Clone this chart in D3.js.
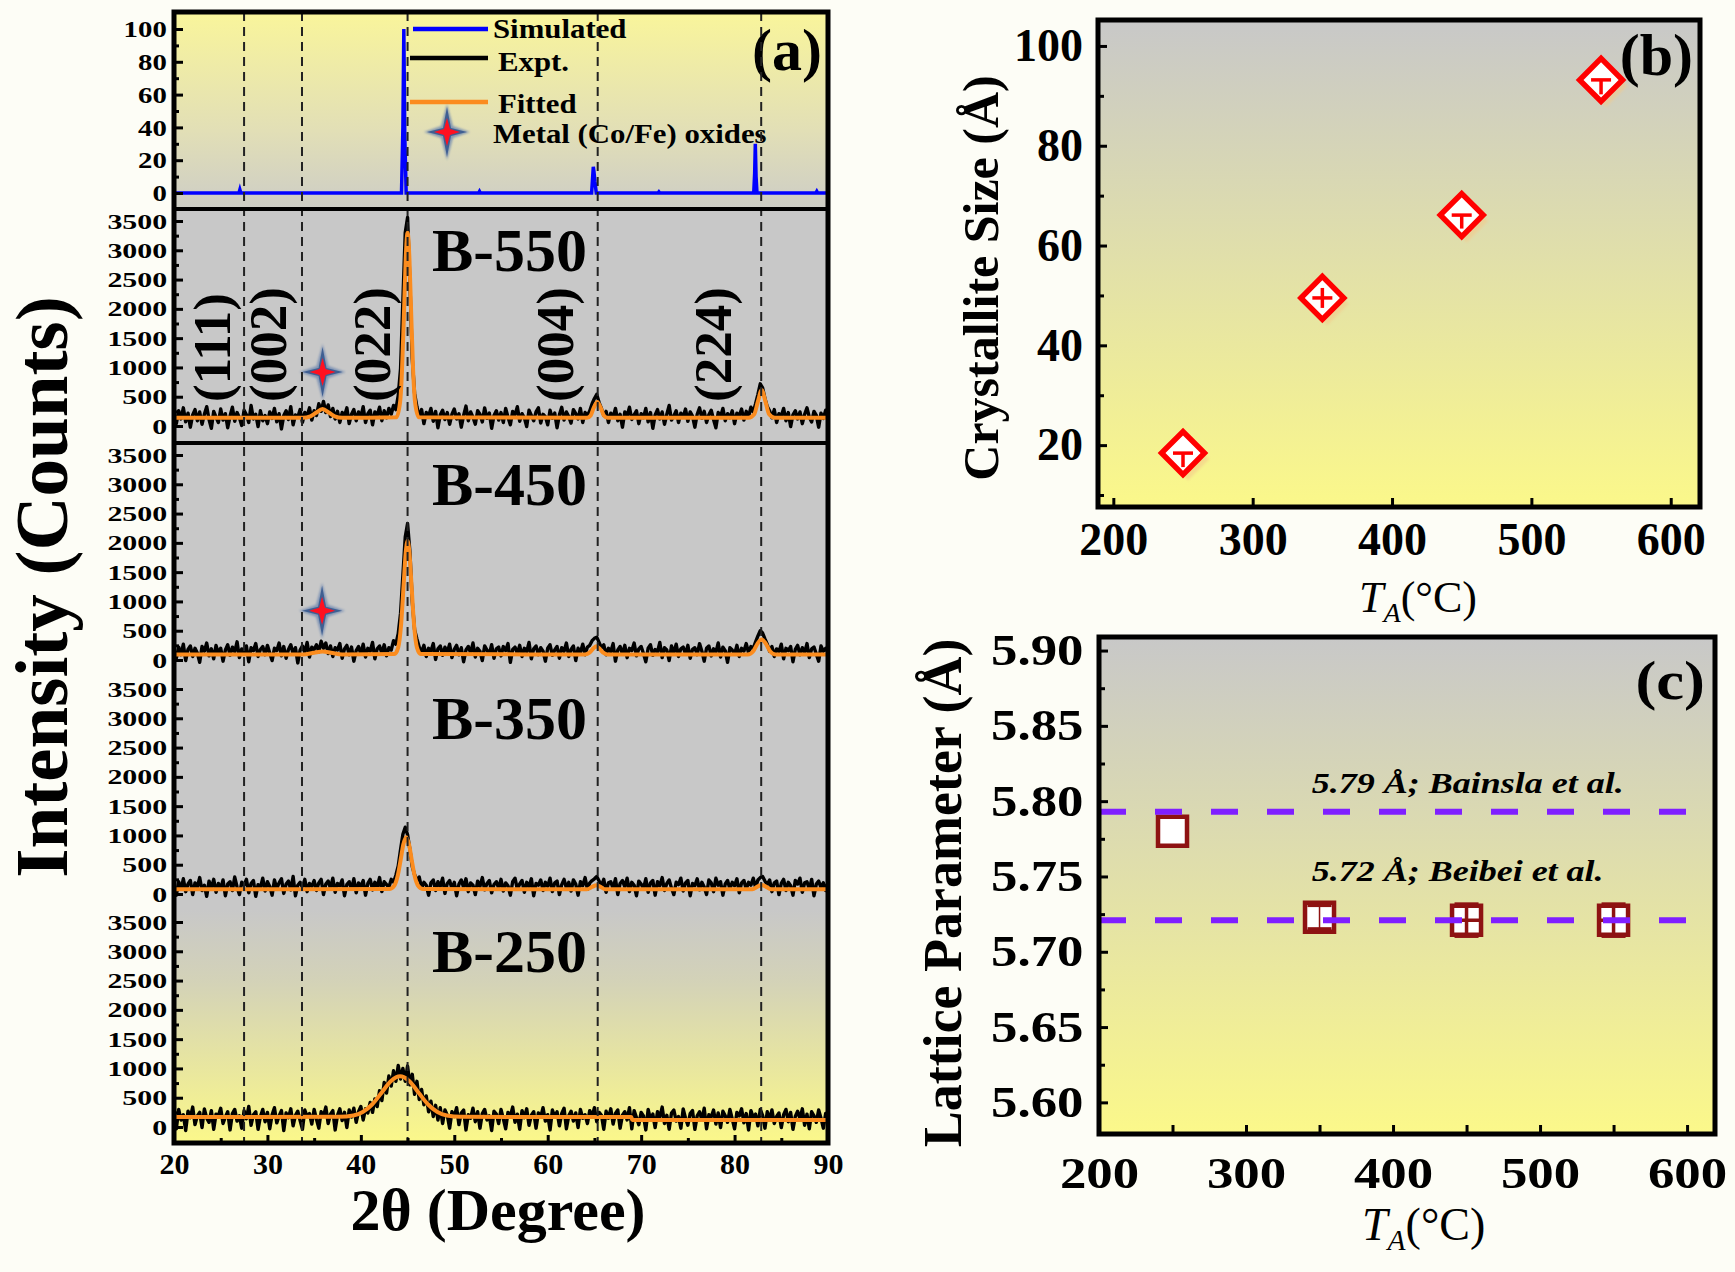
<!DOCTYPE html>
<html>
<head>
<meta charset="utf-8">
<script src="https://cdn.jsdelivr.net/npm/d3@7"></script>
<style>
    body { margin: 0; background: #fdfdf6; }
    svg { display: block; }
</style>
</head>
<body>
<svg id="chart" width="1735" height="1272"></svg>
<script>
// ---- dados ----

// (a) padrões de DRX
const samples = ["B-550", "B-450", "B-350", "B-250"];
const xTicksA = [20, 30, 40, 50, 60, 70, 80, 90];
const xMinorA = [25, 35, 45, 55, 65, 75, 85];
const countTicks = [0, 500, 1000, 1500, 2000, 2500, 3000, 3500];
const countMinor = [250, 750, 1250, 1750, 2250, 2750, 3250];
const simTicks = [0, 20, 40, 60, 80, 100];
const simMinor = [10, 30, 50, 70, 90];

// reflexões (linhas tracejadas) e rótulos hkl
const reflections = [27.5, 33.7, 45.0, 65.35, 82.85];
const hklLabels = ["(111)", "(002)", "(022)", "(004)", "(224)"];
const hklTheta = [26.0, 32.0, 43.1, 62.7, 79.6];

// padrão simulado (intensidade normalizada)
const simTheta = [20, 26.95, 27.05, 27.15, 44.35, 44.5, 44.6, 44.7, 44.85, 52.6, 52.7, 52.8,
    64.7, 64.8, 64.88, 64.95, 65.05, 65.2, 71.8, 71.9, 72.0, 82.05, 82.15, 82.22, 82.3, 82.4,
    88.7, 88.8, 88.9, 90];
const simIntensity = [0, 0, 2, 0, 0, 40, 100, 35, 0, 0, 1, 0,
    0, 9, 16, 13, 7, 0, 0, 0.7, 0, 0, 12, 30, 10, 0,
    0, 1, 0, 0];

// experimental: contagens de 20° a 90°, passo de 0.25°
const exptStart = 20, exptStep = 0.25;
const expt550 = [
    180, 40, 260, 120, 310, 70, 220, -20, 190, 280, 90, 240, 30, 200, 330, 110, -40, 250, 150, 60,
    290, 100, 210, -30, 170, 320, 80, 230, 140, 10, 270, 190, 60, 350, 120, 200, -10, 260, 90, 180,
    40, 240, 130, 300, 70, 210, -50, 180, 260, 110, 330, 20, 190, 150, 280, 60, 230, 170, 310, 100,
    260, 180, 380, 250, 420, 230, 360, 160, 300, 120, 250, 60, 230, 170, 310, 40, 200, 280, 90, 240,
    150, 330, 60, 210, 270, 20, 240, 180, 320, 90, 260, 140, 300, 200, 350, 280, 520, 980, 2150, 3300,
    3560, 2450, 1150, 560, 330, 150, 280, 40, 230, 170, 300, 80, 250, -30, 190, 270, 110, 230, 30, 200,
    290, 120, 210, -20, 180, 340, 90, 240, 150, 30, 260, 200, 70, 310, 130, 220, -40, 180, 260, 100,
    230, 60, 300, 150, 20, 250, 190, 330, 80, 210, 140, -10, 270, 180, 90, 240, 310, 50, 200, 160,
    20, 270, 130, 220, -30, 190, 320, 100, 240, 160, 50, 280, 210, 120, 300, 60, 230, 180, 260, 380,
    470, 540, 400, 300, 180, 250, 60, 220, 150, 300, 90, 200, -20, 240, 170, 320, 110, 190, 260, 40,
    210, 140, 300, 70, 230, -40, 190, 280, 120, 240, 30, 200, 350, 100, 170, 260, 60, 220, 150, 290,
    80, 240, 170, -20, 200, 310, 130, 250, 60, 190, 270, 110, -30, 230, 160, 300, 90, 210, 140, 260,
    40, 220, 180, 290, 100, 250, 160, 320, 240, 380, 540, 720, 650, 470, 330, 260, 140, 280, 60, 210,
    170, 300, 90, 230, -10, 190, 260, 120, 240, 40, 200, 310, 150, 70, 250, 180, -20, 220, 130, 270,
    160];
const expt450 = [
    160, 30, 220, 90, 270, -10, 180, 240, 60, 200, 120, -40, 230, 150, 290, 70, 190, 20, 250, 110,
    200, -20, 170, 260, 80, 220, 140, 310, 40, 190, 100, 240, -30, 210, 160, 280, 60, 180, 230, 90,
    250, 120, -10, 200, 160, 290, 70, 230, 30, 180, 260, 100, 210, -50, 170, 240, 130, 300, 50, 220,
    180, 260, 140, 320, 200, 290, 110, 240, 60, 210, 170, 280, 30, 190, 250, 90, 220, -20, 160, 230,
    100, 270, 50, 200, 150, 300, 20, 190, 240, 110, 260, 70, 210, 170, 330, 270, 450, 800, 1450, 2100,
    2330, 1850, 1000, 520, 360, 220, 130, 250, 60, 200, 150, 280, 10, 190, 240, 80, 220, 130, 270, 40,
    180, 250, 90, 210, -30, 170, 230, 120, 290, 50, 200, 150, -10, 240, 170, 100, 260, 30, 190, 220,
    70, 230, 160, 280, -40, 180, 220, 110, 250, 60, 200, 140, 300, 20, 190, 240, 90, 210, 150, -20,
    200, 260, 80, 170, 230, 30, 210, 150, 290, 60, 180, 240, -10, 200, 130, 270, 90, 220, 250, 330,
    370, 390, 300, 210, 260, 90, 200, 140, 280, -20, 170, 230, 100, 250, 40, 200, 160, 290, 70, 190,
    230, 110, -30, 200, 260, 80, 180, 140, 300, 40, 210, 170, -10, 240, 120, 270, 60, 190, 220, 100,
    250, 30, 180, 210, 90, 280, 150, -20, 200, 240, 70, 190, 130, 290, 50, 220, 160, -40, 210, 170,
    100, 250, 60, 200, 150, 280, 120, 230, 200, 310, 410, 500, 460, 360, 270, 150, 230, 60, 190, 140,
    270, 20, 200, 160, 230, -30, 180, 250, 90, 210, 130, 280, 40, 190, 220, 100, -20, 240, 150, 200,
    120];
const expt350 = [
    140, -20, 210, 80, 260, 40, 170, 230, -10, 190, 120, 280, 60, 150, -40, 220, 100, 250, 30, 180,
    90, 240, -30, 170, 210, 60, 290, 120, -10, 200, 150, 250, 20, 180, 230, -40, 160, 110, 270, 50,
    210, 130, -20, 240, 90, 190, 260, 10, 170, 220, 70, 300, -30, 150, 200, 110, 250, 40, 180, 130,
    230, 60, 190, 250, -10, 170, 220, 100, 270, 30, 180, 140, 240, -30, 160, 210, 80, 260, 20, 190,
    130, 230, -20, 180, 250, 70, 200, 120, 280, 40, 210, 160, 110, 250, 200, 320, 480, 760, 1020, 1140,
    1010, 760, 470, 330, 230, 290, 100, 200, 150, -20, 190, 240, 60, 210, 130, 270, 10, 180, 230, 90,
    200, -30, 170, 240, 110, 260, 40, 190, 150, -10, 220, 130, 280, 70, 180, 230, 20, 160, 210, 100,
    250, 50, 190, 140, -20, 210, 270, 80, 170, 230, 30, 200, 120, 260, -30, 180, 150, 240, 60, 200,
    130, 270, 40, 190, 220, -10, 160, 250, 100, 200, 50, 240, 170, -20, 210, 140, 280, 80, 190, 230,
    260, 300, 220, 140, 250, 30, 190, 210, 90, 260, -10, 180, 230, 120, 270, 40, 200, 150, -30, 220,
    170, 90, 260, 30, 190, 230, -20, 210, 140, 280, 60, 180, 240, 100, -10, 200, 160, 270, 50, 190,
    230, -30, 180, 140, 260, 70, 200, 120, -10, 240, 190, 40, 270, 150, 210, -20, 170, 230, 90, 200,
    140, 260, 20, 190, 230, 80, 200, 150, 270, 110, 240, 280, 300, 220, 160, 240, 40, 190, 220, -10,
    180, 250, 60, 200, 140, -20, 230, 170, 270, 30, 190, 210, 80, 250, -30, 170, 220, 110, 190, 60,
    200];
const expt250 = [
    230, -30, 300, 120, 210, -60, 270, 160, 340, 40, 190, 250, -10, 310, 150, 80, 280, -40, 220, 190,
    320, 60, 170, 260, -50, 230, 300, 100, 190, -20, 280, 140, 350, 30, 210, 260, -40, 180, 300, 90,
    250, -30, 210, 330, 70, 190, 280, -60, 240, 160, 310, 20, 200, 270, 110, -40, 290, 180, 230, 50,
    300, 130, -20, 260, 190, 340, 60, 220, 280, -50, 200, 310, 110, 250, -10, 290, 170, 320, 80, 260,
    350, 120, 310, 240, 420, 250, 480, 350, 620, 450, 760, 580, 870, 700, 960, 780, 1050, 820, 1000, 780,
    1040, 720, 900, 560, 780, 470, 640, 380, 530, 260, 440, 180, 370, 120, 330, 60, 290, 200, -20, 260,
    180, 330, 40, 240, 290, -50, 210, 150, 320, 90, 260, -20, 230, 300, 120, 190, -60, 270, 220, 60,
    300, 140, -30, 250, 190, 340, 80, 220, -40, 280, 160, 310, 30, 200, 260, -20, 240, 170, 330, 100,
    210, -50, 290, 180, 260, 20, 230, 320, -30, 190, 270, 100, 240, -10, 300, 150, 210, 60, 280, 180,
    330, 90, 250, 200, -40, 270, 150, 310, 50, 230, 290, -20, 200, 260, 120, 330, -30, 280, 160, 40,
    250, 190, -50, 300, 130, 220, -10, 260, 170, 340, 60, 200, -40, 240, 290, 100, 180, -20, 310, 150,
    30, 230, 280, -40, 190, 260, 120, 320, -30, 210, 170, 290, 50, 240, -10, 270, 190, 80, 300, 140,
    -30, 250, 190, 310, 70, 230, -50, 280, 160, 220, 20, 300, 200, -20, 260, 130, 290, 60, 180, 240,
    -10, 210, 300, 90, 250, -40, 180, 270, 140, 310, 30, 220, -30, 260, 190, 80, 290, 150, -20, 230,
    170];

// curvas ajustadas (pontos-chave)
const fit550Theta = [20, 33.8, 34.6, 35.2, 35.9, 36.6, 37.2, 38.0,
    43.8, 44.2, 44.4, 44.6, 44.8, 45.0, 45.2, 45.4, 45.6, 45.8, 46.2,
    64.2, 64.6, 64.9, 65.3, 65.7, 66.0, 66.4, 81.5, 82.1, 82.5, 82.9, 83.3, 83.7, 84.3, 90];
const fit550 = [140, 140, 165, 225, 290, 225, 165, 140,
    150, 410, 930, 1850, 2850, 3300, 2850, 1850, 930, 410, 150,
    140, 180, 300, 410, 300, 180, 140, 140, 200, 420, 615, 420, 200, 140, 140];
const fit450Theta = [20, 33.8, 35.0, 35.9, 36.8, 38.0,
    43.6, 44.0, 44.3, 44.6, 44.8, 45.0, 45.2, 45.4, 45.7, 46.0, 46.4,
    64.0, 64.5, 64.9, 65.2, 65.5, 65.9, 66.4, 81.4, 82.0, 82.5, 82.9, 83.3, 83.8, 84.4, 90];
const fit450 = [95, 95, 125, 145, 125, 95,
    103, 216, 592, 1337, 1827, 2030, 1827, 1337, 592, 216, 103,
    95, 130, 200, 235, 200, 130, 95, 95, 150, 290, 350, 290, 150, 95, 95];
const fit350Theta = [20, 43.05, 43.55, 43.95, 44.25, 44.55, 44.85, 45.15, 45.45, 45.75, 46.15, 46.65,
    64.2, 64.8, 65.2, 65.6, 66.2, 81.9, 82.5, 82.9, 83.3, 83.9, 90];
const fit350 = [80, 84, 136, 316, 573, 848, 970, 848, 573, 316, 136, 84,
    80, 125, 150, 125, 80, 80, 130, 155, 130, 80, 80];
const fit250Theta = [20, 37.7, 39.2, 40.2, 41.2, 42.2, 43.2, 44.2, 45.2, 46.2, 47.2, 48.2, 49.2, 50.7,
    68.95, 69.05, 90];
const fit250 = [170, 173, 196, 255, 384, 581, 780, 865, 780, 581, 384, 255, 196, 173,
    170, 120, 120];

// óxidos metálicos (estrelas)
const oxidePanel = [0, 1];
const oxideTheta = [35.9, 35.85];
const oxideLevel = [920, 840];

// (b) tamanho de cristalito
const annealTemp = [250, 350, 450, 550];
const crystSize = [18.4, 49.5, 66.1, 93.2];
const sizeErrLow = [2.8, 2.0, 2.7, 2.9];
const sizeErrHigh = [0, 2.0, 0, 0];
const tempTicksB = [200, 300, 400, 500, 600];
const sizeTicks = [20, 40, 60, 80, 100];
const sizeMinor = [10, 30, 50, 70, 90];

// (c) parâmetro de rede
const latticeParam = [5.780, 5.723, 5.721, 5.721];
const latticeErrY = [0, 0.008, 0.0105, 0.0105];
const latticeErrX = [0, 0, 11, 11];
const refLattice = [5.793, 5.721];
const refLabels = ["5.79 Å; Bainsla et al.", "5.72 Å; Beibei et al."];
const tempTicksC = [200, 300, 400, 500, 600];
const tempMinorC = [250, 350, 450, 550];
const latticeTicks = [5.60, 5.65, 5.70, 5.75, 5.80, 5.85, 5.90];
const latticeMinor = [5.625, 5.675, 5.725, 5.775, 5.825, 5.875];

// ---- desenho ----
const FONT = "'Liberation Serif', 'Times New Roman', serif";
const svg = d3.select("#chart").attr("font-family", FONT);
const defs = svg.append("defs");

function linGrad(id, stops) {
    let g = defs.append("linearGradient").attr("id", id)
        .attr("x1", 0).attr("y1", 0).attr("x2", 0).attr("y2", 1);
    stops.forEach(([o, c]) => g.append("stop").attr("offset", o).attr("stop-color", c));
}
linGrad("simBg", [[0, "#f9f59b"], [0.6, "#e2dfb6"], [1, "#cdcdc6"]]);
linGrad("lowBg", [[0, "#c8c8c8"], [0.3, "#d3d2b8"], [1, "#fbf88a"]]);
linGrad("sideBg", [[0, "#c8c8c8"], [1, "#fbf88a"]]);
defs.append("filter").attr("id", "soft")
    .append("feGaussianBlur").attr("stdDeviation", 1.2);

function styleAxis(g, size, sx) {
    g.select(".domain").remove();
    g.attr("font-family", FONT).attr("font-size", size).attr("font-weight", "bold");
    g.selectAll(".tick line").attr("stroke", "#000").attr("stroke-width", 3);
    g.selectAll(".tick text").attr("fill", "#000");
    if (sx) g.selectAll(".tick text").attr("transform", `scale(${sx},1)`);
    return g;
}

function starPath(cx, cy, h, w, k) {
    let p = d3.path();
    p.moveTo(cx, cy - h);
    p.lineTo(cx + k, cy - k);
    p.lineTo(cx + w, cy);
    p.lineTo(cx + k, cy + k);
    p.lineTo(cx, cy + h);
    p.lineTo(cx - k, cy + k);
    p.lineTo(cx - w, cy);
    p.lineTo(cx - k, cy - k);
    p.closePath();
    return p.toString();
}

function drawStar(g, cx, cy) {
    g.append("path").attr("d", starPath(cx, cy, 28, 23, 6))
        .attr("fill", "#6f88b0").attr("opacity", 0.8).attr("filter", "url(#soft)");
    g.append("path").attr("d", starPath(cx, cy, 25, 20, 4)).attr("fill", "#3f5f92");
    g.append("path").attr("d", starPath(cx, cy, 14, 13, 3)).attr("fill", "#ff1020");
}

// ===== painel (a) =====
const A = { left: 174, right: 828, top: 12, bottom: 1143 };
const panelTop = [209, 443, 677, 910];
const x = d3.scaleLinear().domain([20, 90]).range([A.left, A.right]);
const ySim = d3.scaleLinear().domain([0, 100]).range([193, 29]);
const yPanel = panelTop.map(t => d3.scaleLinear().domain([0, 3500]).range([t + 217, t + 12]));

const gA = svg.append("g");
gA.append("rect").attr("x", A.left).attr("y", A.top).attr("width", A.right - A.left)
    .attr("height", panelTop[0] - A.top).attr("fill", "url(#simBg)");
gA.append("rect").attr("x", A.left).attr("y", panelTop[0]).attr("width", A.right - A.left)
    .attr("height", panelTop[3] - panelTop[0]).attr("fill", "#c8c8c8");
gA.append("rect").attr("x", A.left).attr("y", panelTop[3]).attr("width", A.right - A.left)
    .attr("height", A.bottom - panelTop[3]).attr("fill", "url(#lowBg)");

defs.append("clipPath").attr("id", "clipA").append("rect")
    .attr("x", A.left).attr("y", A.top).attr("width", A.right - A.left).attr("height", A.bottom - A.top);
const plotA = gA.append("g").attr("clip-path", "url(#clipA)");

// simulado
const simLine = d3.line().x(d => x(d[0])).y(d => ySim(d[1]));
plotA.append("path").datum(d3.zip(simTheta, simIntensity))
    .attr("d", simLine).attr("fill", "none").attr("stroke", "#0000ff").attr("stroke-width", 3.5);

const exptSeries = [expt550, expt450, expt350, expt250];
const fitSeries = [[fit550Theta, fit550], [fit450Theta, fit450], [fit350Theta, fit350], [fit250Theta, fit250]];

samples.forEach((s, i) => {
    let y = yPanel[i];
    let exptLine = d3.line().x((d, j) => x(exptStart + j * exptStep)).y(d => y(d));
    plotA.append("path").datum(exptSeries[i]).attr("d", exptLine)
        .attr("fill", "none").attr("stroke", "#000").attr("stroke-width", 3.4).attr("stroke-linejoin", "round");
    let fitLine = d3.line().curve(d3.curveMonotoneX).x(d => x(d[0])).y(d => y(d[1]));
    plotA.append("path").datum(d3.zip(fitSeries[i][0], fitSeries[i][1])).attr("d", fitLine)
        .attr("fill", "none").attr("stroke", "#fb8c1e").attr("stroke-width", 4);

    gA.append("text").attr("x", x(55.9)).attr("y", y(2650)).attr("text-anchor", "middle")
        .attr("font-size", 62).attr("font-weight", "bold").text(s);
});

oxidePanel.forEach((p, i) => drawStar(gA, x(oxideTheta[i]), yPanel[p](oxideLevel[i])));

// rótulos hkl
hklLabels.forEach((h, i) => {
    gA.append("text")
        .attr("transform", `translate(${x(hklTheta[i])},402) rotate(-90)`)
        .attr("font-size", 53).attr("font-weight", "bold").text(h);
});

// legenda
const legend = gA.append("g").attr("font-size", 28).attr("font-weight", "bold");
[["#0000ff", 29, 413], ["#000", 58, 410], ["#fb8c1e", 102, 410]].forEach(([c, ly, lx]) => {
    legend.append("line").attr("x1", lx).attr("x2", 488).attr("y1", ly).attr("y2", ly)
        .attr("stroke", c).attr("stroke-width", 4.5);
});
[["Simulated", 493, 38], ["Expt.", 498, 71], ["Fitted", 498, 113], ["Metal (Co/Fe) oxides", 493, 143]]
    .forEach(([s, lx, ly]) => {
        legend.append("text").attr("transform", `translate(${lx},${ly}) scale(1.1,1)`).text(s);
    });
drawStar(legend, 447, 132);

gA.append("text").attr("x", 822).attr("y", 70).attr("text-anchor", "end")
    .attr("font-size", 60).attr("font-weight", "bold").text("(a)");

// linhas tracejadas das reflexões
gA.selectAll(".refl").data(reflections).enter().append("line")
    .attr("x1", d => x(d)).attr("x2", d => x(d)).attr("y1", A.top).attr("y2", A.bottom)
    .attr("stroke", "#222").attr("stroke-width", 2).attr("stroke-dasharray", "9,6");

// eixos
const intFmt = d3.format("d");
let ax = gA.append("g").attr("transform", `translate(${A.left},0)`)
    .call(d3.axisLeft(ySim).tickValues(simTicks).tickFormat(intFmt)
        .tickSizeInner(-9).tickSizeOuter(0).tickPadding(6));
styleAxis(ax, 24, 1.2);
ax = gA.append("g").attr("transform", `translate(${A.left},0)`)
    .call(d3.axisLeft(ySim).tickValues(simMinor).tickSize(-5).tickFormat(""));
styleAxis(ax, 24);
yPanel.forEach(y => {
    let g = gA.append("g").attr("transform", `translate(${A.left},0)`)
        .call(d3.axisLeft(y).tickValues(countTicks).tickFormat(intFmt)
            .tickSizeInner(-9).tickSizeOuter(0).tickPadding(5));
    styleAxis(g, 22, 1.36);
    g = gA.append("g").attr("transform", `translate(${A.left},0)`)
        .call(d3.axisLeft(y).tickValues(countMinor).tickSize(-5).tickFormat(""));
    styleAxis(g, 22);
});
ax = gA.append("g").attr("transform", `translate(0,${A.bottom})`)
    .call(d3.axisBottom(x).tickValues(xTicksA).tickFormat(intFmt)
        .tickSizeInner(-8).tickSizeOuter(0).tickPadding(10));
styleAxis(ax, 30);
ax = gA.append("g").attr("transform", `translate(0,${A.bottom})`)
    .call(d3.axisBottom(x).tickValues(xMinorA).tickSize(-5).tickFormat(""));
styleAxis(ax, 30);

// moldura e separadores
gA.append("rect").attr("x", A.left).attr("y", A.top).attr("width", A.right - A.left)
    .attr("height", A.bottom - A.top).attr("fill", "none").attr("stroke", "#000").attr("stroke-width", 5);
[panelTop[0], panelTop[1]].forEach(t => {
    gA.append("line").attr("x1", A.left).attr("x2", A.right).attr("y1", t).attr("y2", t)
        .attr("stroke", "#000").attr("stroke-width", 4);
});

gA.append("text").attr("transform", "translate(67,587) rotate(-90)").attr("text-anchor", "middle")
    .attr("font-size", 75).attr("font-weight", "bold").text("Intensity (Counts)");
gA.append("text").attr("x", 498).attr("y", 1230).attr("text-anchor", "middle")
    .attr("font-size", 60).attr("font-weight", "bold").text("2θ (Degree)");

// ===== painel (b) =====
const B = { left: 1098, right: 1700, top: 20, bottom: 507 };
const xB = d3.scaleLinear().domain([189, 621]).range([B.left, B.right]);
const yB = d3.scaleLinear().domain([7.6, 105.2]).range([B.bottom, B.top]);
const gB = svg.append("g");
gB.append("rect").attr("x", B.left).attr("y", B.top).attr("width", B.right - B.left)
    .attr("height", B.bottom - B.top).attr("fill", "url(#sideBg)");

const diamond = d3.symbol().type(d3.symbolSquare).size(920);
annealTemp.forEach((t, i) => {
    let cx = xB(t), cy = yB(crystSize[i]);
    gB.append("path").attr("d", diamond())
        .attr("transform", `translate(${cx + 5},${cy + 6}) rotate(45)`)
        .attr("fill", "#f2c98a").attr("opacity", 0.55).attr("filter", "url(#soft)");
    gB.append("path").attr("d", diamond())
        .attr("transform", `translate(${cx},${cy}) rotate(45)`)
        .attr("fill", "#fff").attr("stroke", "#ff0000").attr("stroke-width", 5.5);
    gB.append("line").attr("x1", cx).attr("x2", cx)
        .attr("y1", yB(crystSize[i] + sizeErrHigh[i])).attr("y2", yB(crystSize[i] - sizeErrLow[i]))
        .attr("stroke", "#ff0000").attr("stroke-width", 3.5);
    gB.append("line").attr("x1", cx - 10).attr("x2", cx + 10).attr("y1", cy).attr("y2", cy)
        .attr("stroke", "#ff0000").attr("stroke-width", 3.5);
});

ax = gB.append("g").attr("transform", `translate(${B.left},0)`)
    .call(d3.axisLeft(yB).tickValues(sizeTicks).tickFormat(intFmt)
        .tickSizeInner(-9).tickSizeOuter(0).tickPadding(15));
styleAxis(ax, 46);
ax = gB.append("g").attr("transform", `translate(${B.left},0)`)
    .call(d3.axisLeft(yB).tickValues(sizeMinor).tickSize(-6).tickFormat(""));
styleAxis(ax, 46);
ax = gB.append("g").attr("transform", `translate(0,${B.bottom})`)
    .call(d3.axisBottom(xB).tickValues(tempTicksB).tickFormat(intFmt)
        .tickSizeInner(-9).tickSizeOuter(0).tickPadding(15));
styleAxis(ax, 46);
gB.append("rect").attr("x", B.left).attr("y", B.top).attr("width", B.right - B.left)
    .attr("height", B.bottom - B.top).attr("fill", "none").attr("stroke", "#000").attr("stroke-width", 5);

gB.append("text").attr("x", 1693).attr("y", 75).attr("text-anchor", "end")
    .attr("font-size", 60).attr("font-weight", "bold").text("(b)");
gB.append("text").attr("transform", "translate(998,278) rotate(-90)").attr("text-anchor", "middle")
    .attr("font-size", 50).attr("font-weight", "bold").text("Crystallite Size (Å)");

function tempLabel(g, lx, ly, size) {
    let t = g.append("text").attr("x", lx).attr("y", ly).attr("font-size", size);
    t.append("tspan").attr("font-style", "italic").text("T");
    t.append("tspan").attr("font-style", "italic").attr("font-size", size * 0.64).attr("dy", 10).text("A");
    t.append("tspan").attr("dy", -10).text("(°C)");
}
tempLabel(gB, 1359, 612, 44);

// ===== painel (c) =====
const C = { left: 1099, right: 1715, top: 637, bottom: 1134 };
const xC = d3.scaleLinear().domain([200, 619]).range([C.left, C.right]);
const yC = d3.scaleLinear().domain([5.579, 5.909]).range([C.bottom, C.top]);
const gC = svg.append("g");
gC.append("rect").attr("x", C.left).attr("y", C.top).attr("width", C.right - C.left)
    .attr("height", C.bottom - C.top).attr("fill", "url(#sideBg)");

const square = d3.symbol().type(d3.symbolSquare).size(841);
const darkRed = "#8e1212";
annealTemp.forEach((t, i) => {
    let cx = xC(t), cy = yC(latticeParam[i]);
    gC.append("path").attr("d", square()).attr("transform", `translate(${cx},${cy})`)
        .attr("fill", "#fff").attr("stroke", darkRed).attr("stroke-width", 4.5);
    if (latticeErrY[i] > 0) {
        let y1 = yC(latticeParam[i] + latticeErrY[i]), y2 = yC(latticeParam[i] - latticeErrY[i]);
        gC.append("line").attr("x1", cx).attr("x2", cx).attr("y1", y1).attr("y2", y2)
            .attr("stroke", darkRed).attr("stroke-width", latticeErrX[i] > 0 ? 3.5 : 1.5);
        [y1, y2].forEach(yy => gC.append("line").attr("x1", cx - 12).attr("x2", cx + 12)
            .attr("y1", yy).attr("y2", yy).attr("stroke", darkRed).attr("stroke-width", 4));
    }
    if (latticeErrX[i] > 0) {
        gC.append("line").attr("x1", xC(t - latticeErrX[i])).attr("x2", xC(t + latticeErrX[i]))
            .attr("y1", cy).attr("y2", cy).attr("stroke", darkRed).attr("stroke-width", 3.5);
    }
});

refLattice.forEach(v => {
    gC.append("line").attr("x1", xC(200)).attr("x2", xC(605)).attr("y1", yC(v)).attr("y2", yC(v))
        .attr("stroke", "#7f1fff").attr("stroke-width", 6).attr("stroke-dasharray", "27,29");
});
[[5.8055, refLabels[0]], [5.747, refLabels[1]]].forEach(([v, s]) => {
    gC.append("text").attr("transform", `translate(${xC(344.7)},${yC(v)}) scale(1.2,1)`)
        .attr("font-size", 30).attr("font-weight", "bold").attr("font-style", "italic").text(s);
});

ax = gC.append("g").attr("transform", `translate(${C.left},0)`)
    .call(d3.axisLeft(yC).tickValues(latticeTicks).tickFormat(d3.format(".2f"))
        .tickSizeInner(-9).tickSizeOuter(0).tickPadding(13));
styleAxis(ax, 44, 1.2);
ax = gC.append("g").attr("transform", `translate(${C.left},0)`)
    .call(d3.axisLeft(yC).tickValues(latticeMinor).tickSize(-6).tickFormat(""));
styleAxis(ax, 44);
ax = gC.append("g").attr("transform", `translate(0,${C.bottom})`)
    .call(d3.axisBottom(xC).tickValues(tempTicksC).tickFormat(intFmt)
        .tickSizeInner(-9).tickSizeOuter(0).tickPadding(23));
styleAxis(ax, 44, 1.2);
ax = gC.append("g").attr("transform", `translate(0,${C.bottom})`)
    .call(d3.axisBottom(xC).tickValues(tempMinorC).tickSize(-9).tickFormat(""));
styleAxis(ax, 44);
gC.append("rect").attr("x", C.left).attr("y", C.top).attr("width", C.right - C.left)
    .attr("height", C.bottom - C.top).attr("fill", "none").attr("stroke", "#000").attr("stroke-width", 5);

gC.append("text").attr("transform", "translate(1705,699) scale(1.12,1)").attr("text-anchor", "end")
    .attr("font-size", 56).attr("font-weight", "bold").text("(c)");
gC.append("text").attr("transform", "translate(961,893) rotate(-90)").attr("text-anchor", "middle")
    .attr("font-size", 54).attr("font-weight", "bold").text("Lattice Parameter (Å)");
tempLabel(gC, 1362, 1240, 46);
</script>
</body>
</html>
